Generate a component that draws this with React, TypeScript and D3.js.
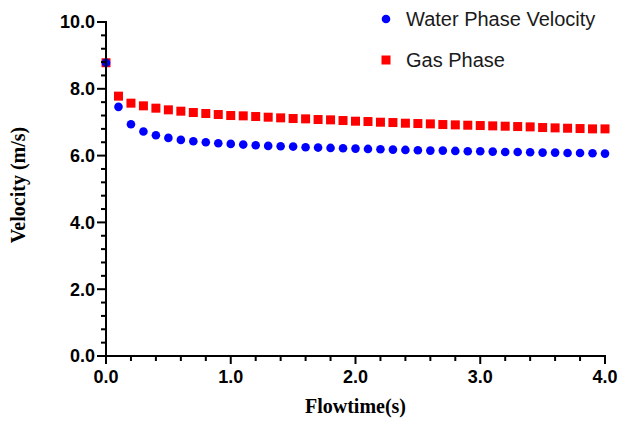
import React from "react";
import * as d3 from "d3";

// flowtime (s)
const flowtime = [
  0, 0.1, 0.2, 0.3, 0.4, 0.5, 0.6, 0.7, 0.8, 0.9, 1.0, 1.1, 1.2, 1.3, 1.4,
  1.5, 1.6, 1.7, 1.8, 1.9, 2.0, 2.1, 2.2, 2.3, 2.4, 2.5, 2.6, 2.7, 2.8, 2.9,
  3.0, 3.1, 3.2, 3.3, 3.4, 3.5, 3.6, 3.7, 3.8, 3.9, 4.0,
];

const waterVelocity = [
  8.78, 7.46, 6.94, 6.72, 6.61, 6.53, 6.47, 6.43, 6.4, 6.37, 6.35, 6.33, 6.31,
  6.29, 6.28, 6.27, 6.25, 6.24, 6.23, 6.22, 6.21, 6.2, 6.19, 6.18, 6.17, 6.16,
  6.15, 6.15, 6.14, 6.13, 6.13, 6.12, 6.11, 6.11, 6.1, 6.09, 6.09, 6.08, 6.08,
  6.07, 6.06,
];

const gasVelocity = [
  8.78, 7.78, 7.57, 7.49, 7.42, 7.37, 7.33, 7.29, 7.26, 7.23, 7.2, 7.19, 7.17,
  7.15, 7.13, 7.11, 7.1, 7.08, 7.07, 7.05, 7.03, 7.02, 7.0, 6.99, 6.97, 6.96,
  6.95, 6.93, 6.92, 6.91, 6.9, 6.89, 6.88, 6.87, 6.86, 6.84, 6.83, 6.82, 6.81,
  6.8, 6.8,
];

const xMajor = [0, 1, 2, 3, 4];
const xMinor = [
  0.2, 0.4, 0.6, 0.8, 1.2, 1.4, 1.6, 1.8, 2.2, 2.4, 2.6, 2.8, 3.2, 3.4, 3.6,
  3.8,
];
const yMajor = [0, 2, 4, 6, 8, 10];
const yMinor = [
  0.4, 0.8, 1.2, 1.6, 2.4, 2.8, 3.2, 3.6, 4.4, 4.8, 5.2, 5.6, 6.4, 6.8, 7.2,
  7.6, 8.4, 8.8, 9.2, 9.6,
];

const legendLabels = ["Water Phase Velocity", "Gas Phase"];

const W = 621;
const H = 421;
const margin = { left: 106, right: 16, top: 22, bottom: 65 };

const sans = "'Liberation Sans', Arial, Helvetica, sans-serif";
const serif = "'Liberation Serif', 'Times New Roman', Times, serif";

export default function App() {
  const x = d3
    .scaleLinear()
    .domain([0, 4])
    .range([margin.left, W - margin.right]);
  const y = d3
    .scaleLinear()
    .domain([0, 10])
    .range([H - margin.bottom, margin.top]);

  const x0 = x(0);
  const y0 = y(0);
  const sq = 9;

  return (
    <svg
      width={W}
      height={H}
      style={{ position: "fixed", left: 0, top: 0, background: "#fff" }}
    >
      {/* gas phase squares first, water dots drawn over them */}
      <g fill="#ff0000">
        {flowtime.map((t, i) => (
          <rect
            key={"g" + i}
            x={x(t) - sq / 2}
            y={y(gasVelocity[i]) - sq / 2}
            width={sq}
            height={sq}
          />
        ))}
      </g>
      <g fill="#0000ff">
        {flowtime.map((t, i) => (
          <circle key={"w" + i} cx={x(t)} cy={y(waterVelocity[i])} r={4.3} />
        ))}
      </g>

      {/* axes */}
      <g stroke="#000" strokeWidth={2} fill="none">
        <line x1={x0} x2={x0} y1={y(10) - 1} y2={y0 + 1} />
        <line x1={x0 - 1} x2={x(4) + 1} y1={y0} y2={y0} />
        {yMajor.map((v) => (
          <line key={"ym" + v} x1={x0 - 9} x2={x0} y1={y(v)} y2={y(v)} />
        ))}
        {yMinor.map((v) => (
          <line key={"yn" + v} x1={x0 - 5} x2={x0} y1={y(v)} y2={y(v)} />
        ))}
        {xMajor.map((v) => (
          <line key={"xm" + v} x1={x(v)} x2={x(v)} y1={y0} y2={y0 + 8} />
        ))}
        {xMinor.map((v) => (
          <line key={"xn" + v} x1={x(v)} x2={x(v)} y1={y0} y2={y0 + 5} />
        ))}
      </g>

      <g
        fontFamily={sans}
        fontWeight="bold"
        fontSize={18}
        fill="#000"
      >
        {yMajor.map((v) => (
          <text
            key={"yl" + v}
            x={x0 - 11}
            y={y(v)}
            dy="0.35em"
            textAnchor="end"
          >
            {d3.format(".1f")(v)}
          </text>
        ))}
        {xMajor.map((v) => (
          <text key={"xl" + v} x={x(v)} y={y0 + 27} textAnchor="middle">
            {d3.format(".1f")(v)}
          </text>
        ))}
      </g>

      <text
        x={(x(0) + x(4)) / 2}
        y={413}
        textAnchor="middle"
        fontFamily={serif}
        fontWeight="bold"
        fontSize={20}
      >
        Flowtime(s)
      </text>
      <text
        transform={`translate(25, ${(y(0) + y(10)) / 2 - 4}) rotate(-90)`}
        textAnchor="middle"
        fontFamily={serif}
        fontWeight="bold"
        fontSize={20}
      >
        Velocity (m/s)
      </text>

      {/* legend */}
      <g fontFamily={sans} fontSize={20} fill="#1a1a1a">
        <circle cx={386} cy={19} r={4.3} fill="#0000ff" />
        <text x={406} y={26}>
          {legendLabels[0]}
        </text>
        <rect x={386 - sq / 2} y={60 - sq / 2} width={sq} height={sq} fill="#ff0000" />
        <text x={406} y={67}>
          {legendLabels[1]}
        </text>
      </g>
    </svg>
  );
}
